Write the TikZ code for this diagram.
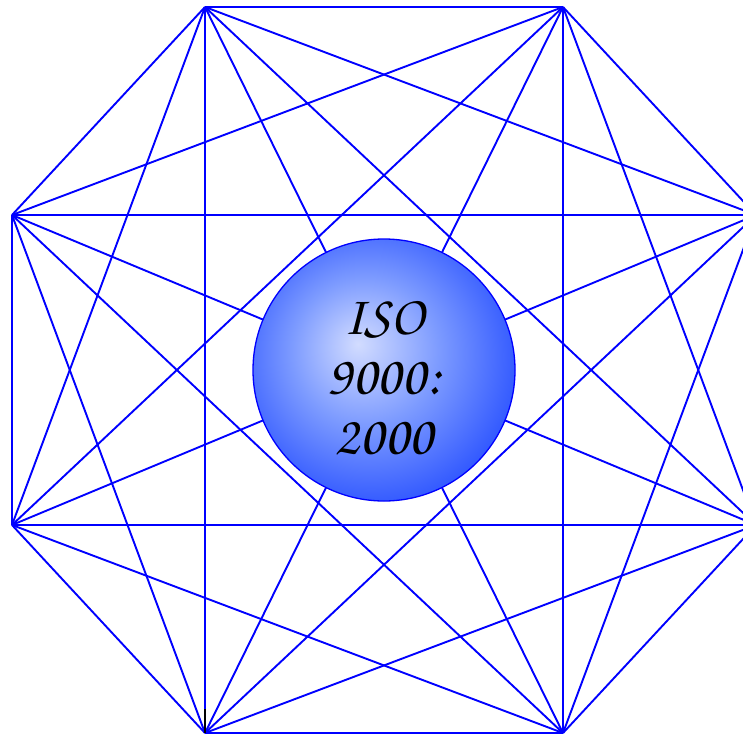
\documentclass[tikz,border=0pt]{standalone}
\usepackage[T1]{fontenc}
\definecolor{ballin}{RGB}{210,220,255}
\definecolor{ballmid}{RGB}{125,155,255}
\definecolor{ballout}{RGB}{40,80,255}
\pgfdeclareradialshading{isoball}{\pgfpoint{-5bp}{5bp}}{color(0bp)=(ballin); color(14bp)=(ballmid); color(30bp)=(ballout); color(50bp)=(ballout)}
\begin{document}
\begin{tikzpicture}[x=1pt,y=-1pt,
  edge/.style={blue, line width=1.9pt},
  hub/.style={circle, draw=blue, line width=1.3pt, shading=isoball, minimum size=262pt, inner sep=0pt},
  hubtext/.style={align=center, inner sep=0pt, font=\fontfamily{pzc}\fontsize{56}{60}\selectfont},
  blackmark/.style={black, line width=2.4pt}]
\useasboundingbox (0,0) rectangle (743,736);
\clip (0,0) rectangle (743,736);
\coordinate (v1) at (205,7);
\coordinate (v2) at (563,7);
\coordinate (v3) at (756,215);
\coordinate (v4) at (756,525);
\coordinate (v5) at (563,733);
\coordinate (v6) at (205,733);
\coordinate (v7) at (12,525);
\coordinate (v8) at (12,215);
\foreach \i in {1,...,8}{
  \foreach \j in {1,...,8}{
    \ifnum\i<\j
      \draw[edge] (v\i) -- (v\j);
    \fi
  }
}
\coordinate (blk) at (205,709);
\draw[blackmark] (v6) -- (blk);
\node[hub] (iso) at (384,370) {};
\node[hubtext] (isotext) at (384,378) {ISO\\9000:\\2000};
\end{tikzpicture}
\end{document}
